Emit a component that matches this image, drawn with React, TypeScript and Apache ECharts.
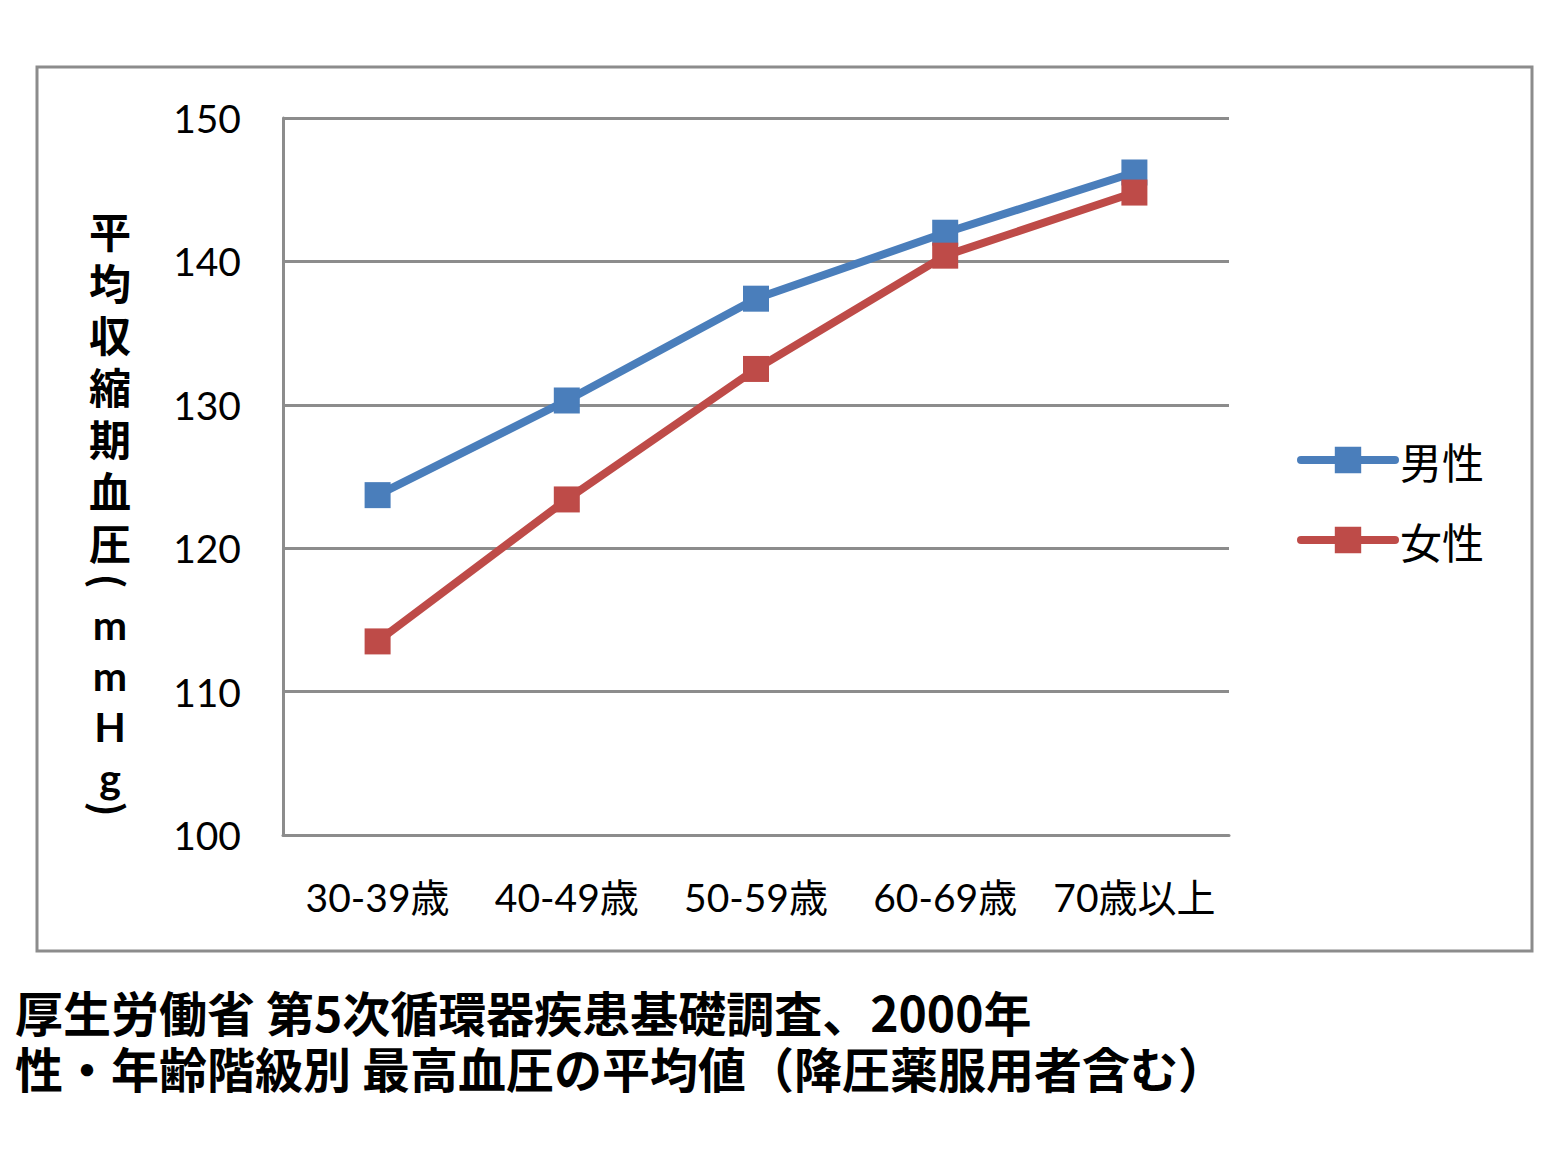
import React, {useEffect, useRef} from 'react';
import * as echarts from 'echarts';

const categories = ['30-39歳', '40-49歳', '50-59歳', '60-69歳', '70歳以上'];
const maleValues = [123.7, 130.3, 137.4, 142.0, 146.2];
const femaleValues = [113.5, 123.4, 132.5, 140.4, 144.8];
const yTicks = {min: 100, max: 150, interval: 10};

// vertical axis title: 平均収縮期血圧（mmHg）, stacked one glyph per row
const yTitleTop = ['平', '均', '収', '縮', '期', '血', '圧'];
const yTitleUnit = ['m', 'm', 'H', 'g'];
const captionLines = [
  '厚生労働省 第5次循環器疾患基礎調査、2000年',
  '性・年齢階級別 最高血圧の平均値（降圧薬服用者含む）'
];

const JP = '"Noto Sans CJK JP", sans-serif';
const NUM = 'Lato, "Noto Sans CJK JP", sans-serif';

const titleStyle = (text: string, lineHeight: number, fontSize: number, fontFamily: string) => ({
  text,
  fontSize,
  fontWeight: 'bold',
  fontFamily,
  fill: '#000',
  align: 'center',
  verticalAlign: 'top',
  lineHeight
});

const parenText = (ch: string, y: number) => ({
  type: 'text',
  x: 110,
  y,
  rotation: -Math.PI / 2,
  style: {
    text: ch,
    fontSize: 40,
    fontWeight: 'bold',
    fontFamily: JP,
    fill: '#000',
    align: 'center',
    verticalAlign: 'middle'
  }
});

const App: React.FC = () => {
  const chartRef = useRef<HTMLDivElement | null>(null);

  useEffect(() => {
    if (!chartRef.current) return;
    const chart = echarts.init(chartRef.current, undefined, {renderer: 'svg'});

    const option: any = {
      animation: false,
      backgroundColor: '#fff',
      grid: {left: 283, right: 337, top: 118, bottom: 323},
      legend: {
        orient: 'vertical',
        left: 1292,
        top: 434,
        itemWidth: 94,
        itemHeight: 33,
        itemGap: 38,
        lineStyle: {width: 8, cap: 'round'},
        textStyle: {fontSize: 42, fontFamily: JP, color: '#000'},
        data: ['男性', '女性']
      },
      xAxis: {
        type: 'category',
        data: categories,
        boundaryGap: true,
        axisLine: {lineStyle: {color: '#8c8c8c', width: 3}},
        axisTick: {show: false},
        axisLabel: {interval: 0, fontSize: 39, fontFamily: NUM, color: '#000', margin: 42}
      },
      yAxis: {
        type: 'value',
        min: yTicks.min,
        max: yTicks.max,
        interval: yTicks.interval,
        axisLine: {show: true, lineStyle: {color: '#8c8c8c', width: 3}},
        axisTick: {show: false},
        splitLine: {lineStyle: {color: '#8c8c8c', width: 3}},
        axisLabel: {fontSize: 39, fontFamily: NUM, color: '#000', margin: 42}
      },
      series: [
        {
          name: '男性',
          type: 'line',
          data: maleValues,
          symbol: 'rect',
          symbolSize: 26,
          color: '#4a7ebb',
          lineStyle: {width: 8, color: '#4a7ebb', cap: 'round'},
          itemStyle: {color: '#4a7ebb'}
        },
        {
          name: '女性',
          type: 'line',
          data: femaleValues,
          symbol: 'rect',
          symbolSize: 26,
          color: '#be4b48',
          lineStyle: {width: 8, color: '#be4b48', cap: 'round'},
          itemStyle: {color: '#be4b48'}
        }
      ],
      graphic: [
        {
          type: 'rect',
          shape: {x: 37, y: 67, width: 1495, height: 884},
          style: {fill: 'none', stroke: '#8c8c8c', lineWidth: 3},
          silent: true
        },
        {type: 'text', x: 110, y: 203, style: titleStyle(yTitleTop.join('\n'), 52, 42, JP)},
        parenText('(', 581),
        {
          type: 'text',
          x: 110,
          y: 599,
          style: titleStyle(yTitleUnit.join('\n'), 51, 41, 'Lato, sans-serif')
        },
        parenText(')', 809),
        {
          type: 'text',
          x: 15,
          y: 983,
          style: {
            text: captionLines.join('\n'),
            fontSize: 48,
            fontWeight: 'bold',
            fontFamily: JP,
            fill: '#000',
            align: 'left',
            verticalAlign: 'top',
            lineHeight: 56
          }
        }
      ]
    };

    chart.setOption(option);
    return () => {
      chart.dispose();
    };
  }, []);

  return (
    <div
      ref={chartRef}
      style={{position: 'fixed', left: 0, top: 0, width: '1566px', height: '1158px'}}
    />
  );
};

export default App;
